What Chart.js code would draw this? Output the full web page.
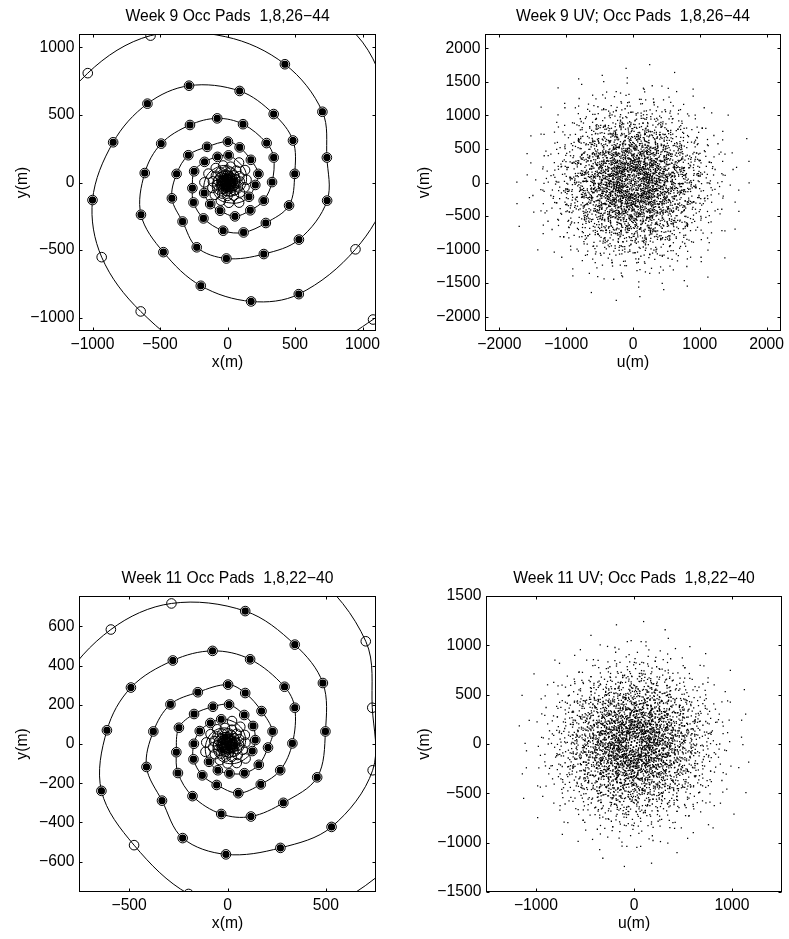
<!DOCTYPE html>
<html>
<head>
<meta charset="utf-8">
<script src="https://cdn.jsdelivr.net/npm/chart.js@4.4.1/dist/chart.umd.min.js"></script>
<style>
  body { margin: 0; background: #fff; }
  #page { position: relative; width: 789px; height: 939px; overflow: hidden; }
  canvas { position: absolute; }
</style>
</head>
<body>
<div id="page">
  <canvas id="padsW9"></canvas>
  <canvas id="uvW9"></canvas>
  <canvas id="padsW11"></canvas>
  <canvas id="uvW11"></canvas>
</div>
<script>
// pad positions in metres along the three spiral arms, pad 1 first (inner ones estimated from the blob)
const arm1 = [[-20,3],[-21,-6],[-17,-16],[-10,-24],[2,-28],[15,-27],[28,-20],[36,-7],[40,11],[34,29],
  [19,44],[-2,53],[-27,52],[-51,39],[-68,15],[-74,-17],[-64,-52],[-39,-82],[0,-99],[47,-97],
  [92,-74],[126,-36],[141,20],[130,92],[85,148],[8,201],[-74,190],[-170,153],[-247,83],[-260,-42],
  [-252,-148],[-178,-266],[-32,-357],[119,-370],[284,-300],[456,-170],[498,64],[485,311],[342,507],[90,678],
  [-285,717],[-593,584],[-847,298],[-1000,-130]];
const arm2 = [[12,16],[5,21],[-5,23],[-16,21],[-26,13],[-31,1],[-31,-14],[-24,-29],[-10,-40],[7,-44],
  [29,-39],[47,-25],[58,-3],[59,25],[47,52],[22,73],[-13,82],[-52,75],[-86,50],[-108,8],
  [-112,-40],[-94,-91],[-49,-134],[10,-150],[86,-149],[159,-106],[206,-18],[229,64],[173,168],[90,260],
  [3,303],[-151,264],[-290,202],[-377,64],[-412,-117],[-333,-289],[-228,-480],[-8,-563],[269,-530],[529,-423],
  [738,-134],[736,185],[703,524],[425,876]];
const arm3 = [[7,-19],[16,-15],[22,-7],[26,3],[23,16],[16,27],[3,34],[-12,35],[-30,29],[-42,15],
  [-48,-6],[-45,-28],[-32,-49],[-8,-64],[21,-66],[52,-56],[77,-29],[91,7],[88,46],[65,88],
  [23,117],[-32,126],[-87,107],[-141,66],[-171,1],[-173,-78],[-128,-160],[-55,-209],[55,-251],[169,-206],
  [268,-134],[330,3],[342,185],[290,292],[115,432],[-76,475],[-278,426],[-491,288],[-613,70],[-641,-239],
  [-475,-516],[-198,-765],[175,-881],[528,-827]];

// where each spiral carries on past pad 44
const tail1 = [[-932,-553],[-643,-955],[-174,-1290],[439,-1358],[1078,-1015],[1570,-600]];
const tail2 = [[-15,1080],[-570,1088],[-1035,810],[-1396,299],[-1521,-365]];
const tail3 = [[948,-495],[1186,-68],[1204,494],[1000,1040],[444,1500]];

// empty pads seen beyond pad 44
const outerPads = [[-932,-553],[-643,-955],[1078,-1015],[-570,1088],[-1035,810],[948,-495]];

// occupied pad numbers (same on every arm)
const occWeek9 = [1, 8, 26, 27, 28, 29, 30, 31, 32, 33, 34, 35, 36, 37, 38, 39, 40, 41, 42, 43, 44];
const occWeek11 = [1, 8, 22, 23, 24, 25, 26, 27, 28, 29, 30, 31, 32, 33, 34, 35, 36, 37, 38, 39, 40];

// tick labels
const ticksW9xy = [-1000, -500, 0, 500, 1000];
const ticksW9u = [-2000, -1000, 0, 1000, 2000];
const ticksW9v = [-2000, -1500, -1000, -500, 0, 500, 1000, 1500, 2000];
const ticksW11x = [-500, 0, 500];
const ticksW11y = [-600, -400, -200, 0, 200, 400, 600];
const ticksW11u = [-1000, 0, 1000];
const ticksW11v = [-1500, -1000, -500, 0, 500, 1000, 1500];

const arms = [arm1, arm2, arm3];
const tails = [tail1, tail2, tail3];

Chart.defaults.font.family = '"Liberation Sans", Arial, sans-serif';
Chart.defaults.font.size = 15.7;
Chart.defaults.color = '#000';

const toXY = pts => pts.map(p => ({ x: p[0], y: p[1] }));
const fmt = v => v < 0 ? '\u2212' + (-v) : String(v);

function occupied(occ) {
  return arms.flatMap(arm => arm.filter((p, i) => occ.includes(i + 1)));
}

// uv points = every ordered pair of occupied pads
function baselines(pads) {
  const uv = [];
  pads.forEach((a, i) => pads.forEach((b, j) => {
    if (i !== j) uv.push({ x: a[0] - b[0], y: a[1] - b[1] });
  }));
  return uv;
}

function padDatasets(occ) {
  const lines = arms.map((arm, k) => ({
    data: toXY(arm.concat(tails[k])),
    showLine: true, borderColor: '#000', borderWidth: 1, pointRadius: 0,
    tension: 0.35, capBezierPoints: false, order: 3
  }));
  const filled = {
    data: toXY(occupied(occ)),
    pointRadius: 4.1, pointBackgroundColor: '#000', pointBorderColor: '#fff', pointBorderWidth: 1, order: 2
  };
  const open = {
    data: toXY(arms.flat().concat(outerPads)),
    pointRadius: 4.8, pointBackgroundColor: 'rgba(0,0,0,0)', pointBorderColor: '#000', pointBorderWidth: 1, order: 1
  };
  return [...lines, filled, open];
}

function uvDatasets(occ) {
  return [{
    data: baselines(occupied(occ)),
    pointStyle: 'rect', pointRadius: 0.9, pointBackgroundColor: '#000', pointBorderWidth: 0
  }];
}

// box around the plot, inward ticks on all four sides, and the panel title
const framePlugin = {
  id: 'frame',
  afterDraw(chart, args, opts) {
    const { ctx, chartArea: a, scales: { x, y } } = chart;
    const L = Math.round(a.left) + 0.5, R = Math.round(a.right) - 0.5;
    const T = Math.round(a.top) + 0.5, B = Math.round(a.bottom) - 0.5;
    ctx.save();
    ctx.strokeStyle = '#000';
    ctx.lineWidth = 1;
    ctx.strokeRect(L, T, R - L, B - T);
    ctx.beginPath();
    opts.xTicks.forEach(v => {
      const px = Math.round(x.getPixelForValue(v)) + 0.5;
      ctx.moveTo(px, B); ctx.lineTo(px, B - 3);
      ctx.moveTo(px, T); ctx.lineTo(px, T + 3);
    });
    opts.yTicks.forEach(v => {
      const py = Math.round(y.getPixelForValue(v)) + 0.5;
      ctx.moveTo(L, py); ctx.lineTo(L + 3, py);
      ctx.moveTo(R, py); ctx.lineTo(R - 3, py);
    });
    ctx.stroke();
    ctx.fillStyle = '#000';
    ctx.font = '15.7px "Liberation Sans", Arial, sans-serif';
    ctx.textAlign = 'center';
    ctx.textBaseline = 'middle';
    ctx.fillText(opts.title, (a.left + a.right) / 2, a.top - 17);
    ctx.restore();
  }
};

function makeChart(p, datasets) {
  const cv = document.getElementById(p.id);
  cv.width = p.canvas.w; cv.height = p.canvas.h;
  cv.style.left = p.canvas.left + 'px';
  cv.style.top = p.canvas.top + 'px';
  const yW = p.box.l - p.canvas.left;
  const xH = 45;
  const half = 15.7 * 1.2 / 2;
  return new Chart(cv, {
    type: 'scatter',
    data: { datasets },
    options: {
      responsive: false, animation: false, devicePixelRatio: 1, events: [],
      layout: { padding: {
        left: 0,
        top: p.box.t - p.canvas.top,
        right: p.canvas.left + p.canvas.w - p.box.r,
        bottom: p.canvas.top + p.canvas.h - p.box.b - xH
      } },
      elements: { line: { capBezierPoints: false } },
      plugins: {
        legend: { display: false }, tooltip: { enabled: false },
        frame: { title: p.title, xTicks: p.xTicks, yTicks: p.yTicks }
      },
      scales: {
        x: {
          type: 'linear', min: -p.xLim, max: p.xLim,
          grid: { display: false, drawTicks: false, tickLength: 0 }, border: { display: false },
          afterBuildTicks: s => { s.ticks = p.xTicks.map(v => ({ value: v })); },
          afterFit: s => { s.height = xH; },
          ticks: { padding: 4.6, maxRotation: 0, autoSkip: false, callback: fmt },
          title: { display: true, text: p.xLabel, padding: { top: 0, bottom: xH - 32 - half } }
        },
        y: {
          type: 'linear', min: -p.yLim, max: p.yLim,
          grid: { display: false, drawTicks: false, tickLength: 0 }, border: { display: false },
          afterBuildTicks: s => { s.ticks = p.yTicks.map(v => ({ value: v })); },
          afterFit: s => { s.width = yW; },
          ticks: { padding: 4.6, autoSkip: false, callback: fmt },
          title: { display: true, text: p.yLabel, padding: { top: p.yTitleX - p.canvas.left - half, bottom: 0 } }
        }
      }
    },
    plugins: [framePlugin]
  });
}

makeChart({
  id: 'padsW9', canvas: { left: 0, top: 0, w: 394, h: 400 }, box: { l: 79, t: 34, r: 376, b: 331 },
  xLim: 1100, yLim: 1100, xTicks: ticksW9xy, yTicks: ticksW9xy, xLabel: 'x(m)', yLabel: 'y(m)', yTitleX: 23,
  title: 'Week 9 Occ Pads  1,8,26\u221244'
}, padDatasets(occWeek9));

makeChart({
  id: 'uvW9', canvas: { left: 400, top: 0, w: 389, h: 400 }, box: { l: 485, t: 34, r: 782, b: 331 },
  xLim: 2215, yLim: 2215, xTicks: ticksW9u, yTicks: ticksW9v, xLabel: 'u(m)', yLabel: 'v(m)', yTitleX: 425,
  title: 'Week 9 UV; Occ Pads  1,8,26\u221244'
}, uvDatasets(occWeek9));

makeChart({
  id: 'padsW11', canvas: { left: 0, top: 560, w: 394, h: 379 }, box: { l: 79, t: 596, r: 376, b: 892 },
  xLim: 755, yLim: 755, xTicks: ticksW11x, yTicks: ticksW11y, xLabel: 'x(m)', yLabel: 'y(m)', yTitleX: 23,
  title: 'Week 11 Occ Pads  1,8,22\u221240'
}, padDatasets(occWeek11));

makeChart({
  id: 'uvW11', canvas: { left: 400, top: 560, w: 389, h: 379 }, box: { l: 486, t: 596, r: 782, b: 892 },
  xLim: 1510, yLim: 1500, xTicks: ticksW11u, yTicks: ticksW11v, xLabel: 'u(m)', yLabel: 'v(m)', yTitleX: 425,
  title: 'Week 11 UV; Occ Pads  1,8,22\u221240'
}, uvDatasets(occWeek11));
</script>
</body>
</html>
